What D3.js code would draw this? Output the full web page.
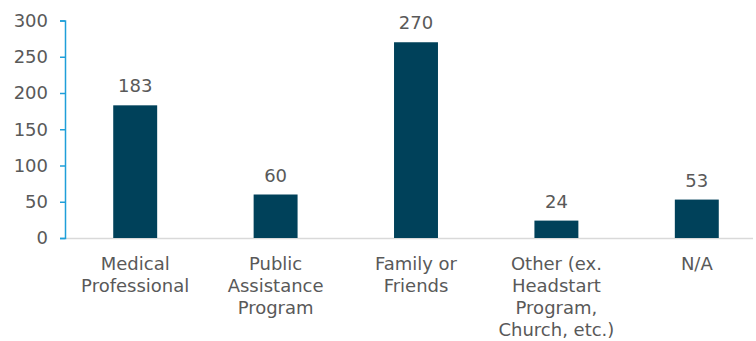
<!DOCTYPE html>
<html><head><meta charset="utf-8">
<script src="https://cdn.jsdelivr.net/npm/d3@7"></script>
<style>body{margin:0;background:#fff}svg{display:block}text{font-family:Verdana,"DejaVu Sans",sans-serif;fill:#595959}</style>
</head><body>
<svg id="c" width="756" height="341"></svg>
<script>
const categories = [["Medical","Professional"],["Public","Assistance","Program"],["Family or","Friends"],["Other (ex.","Headstart","Program,","Church, etc.)"],["N/A"]];
const values = [183, 60, 270, 24, 53];
const yTicks = [0, 50, 100, 150, 200, 250, 300];

const svg = d3.select("#c");
const left = 65, right = 767, y0 = 238, yTop = 20.5;
const fs = "18px";
const keys = categories.map((d,i)=>i);
const x = d3.scaleBand().domain(keys).range([left, right]).paddingInner(0.687).paddingOuter(0.3435);
const y = d3.scaleLinear().domain([0, 300]).range([y0, yTop]);

// baseline
svg.append("line").attr("x1", left).attr("x2", 753).attr("y1", y0+0.5).attr("y2", y0+0.5)
  .attr("stroke", "#d9d9d9").attr("stroke-width", 1.5);

// bars
svg.selectAll("rect.bar").data(values).join("rect")
  .attr("x", (d,i)=>x(i)).attr("width", x.bandwidth())
  .attr("y", d=>y(d)).attr("height", d=>y0 - y(d))
  .attr("fill", "#00415a");

// y axis
const yAxis = d3.axisLeft(y).tickValues(yTicks).tickSize(5).tickPadding(12);
const ga = svg.append("g").attr("transform", `translate(${left},0)`).call(yAxis);
ga.select(".domain").attr("stroke", "#1f9fd9").attr("stroke-width", 1.5);
ga.selectAll(".tick line").attr("stroke", "#1f9fd9").attr("stroke-width", 1.5);
ga.selectAll(".tick text").style("font-size", fs).attr("fill", "#595959").attr("font-family", "Verdana, 'DejaVu Sans', sans-serif");

// value labels
svg.selectAll("text.val").data(values).join("text")
  .attr("class", "val")
  .attr("x", (d,i)=>x(i)+x.bandwidth()/2).attr("y", d=>y(d)-13)
  .attr("text-anchor", "middle").style("font-size", fs).text(d=>d);

// category labels
const cg = svg.selectAll("text.cat").data(categories).join("text")
  .attr("class", "cat").attr("text-anchor", "middle").style("font-size", fs)
  .attr("transform", (d,i)=>`translate(${x(i)+x.bandwidth()/2},270)`);
cg.selectAll("tspan").data(d=>d).join("tspan")
  .attr("x", 0).attr("y", (d,j)=>j*22).text(d=>d);
</script>
</body></html>
